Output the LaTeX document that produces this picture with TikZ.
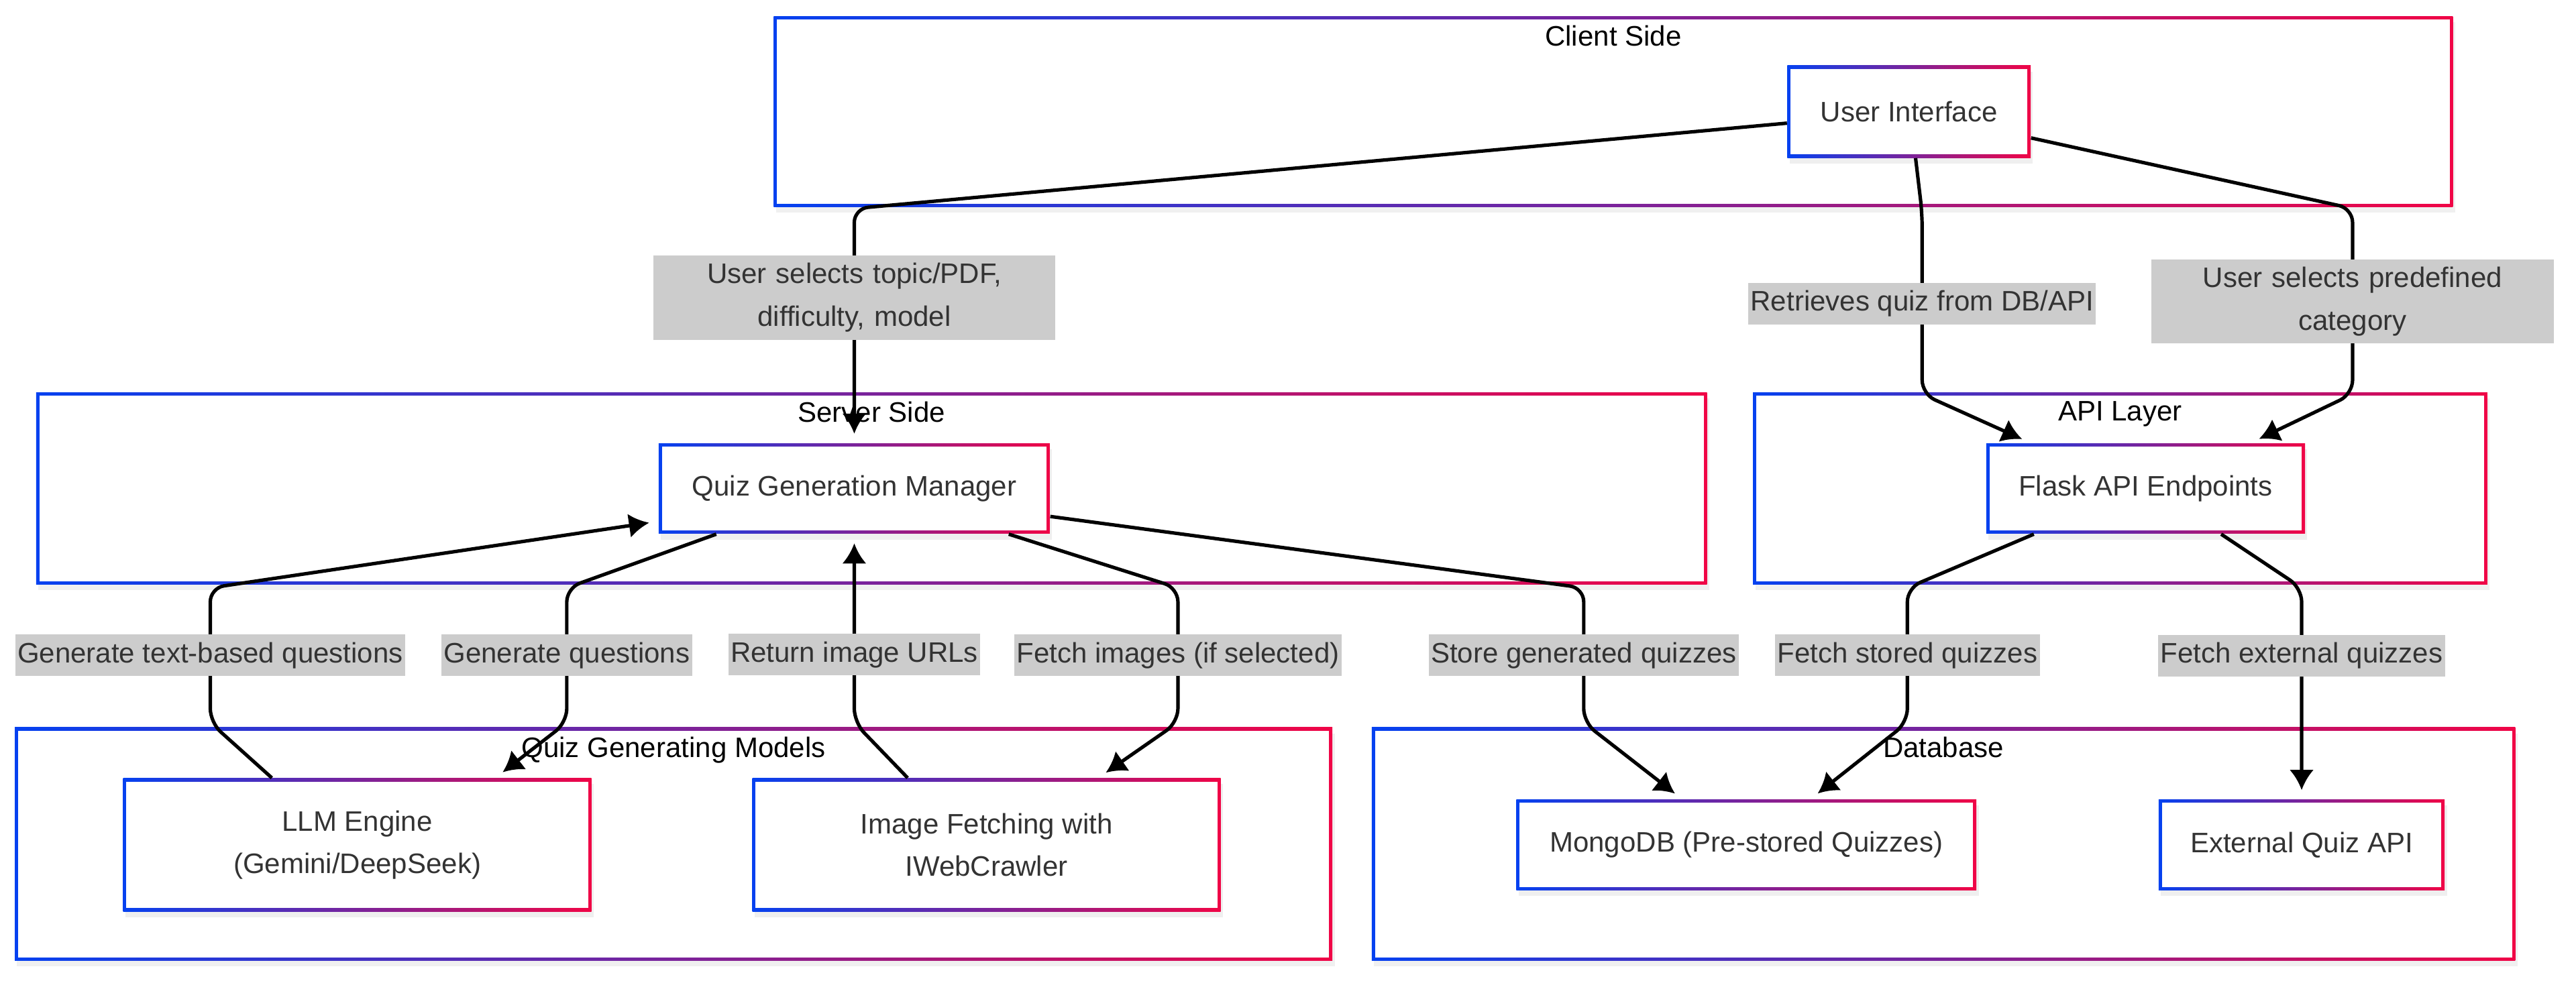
\documentclass[tikz,border=0pt]{standalone}
\usepackage{fontspec}
\setmainfont{Liberation Sans}
\usetikzlibrary{arrows,arrows.meta,fit,positioning,shadows}
\definecolor{gblue}{RGB}{5,65,240}
\definecolor{gred}{RGB}{240,5,70}
\definecolor{txt}{RGB}{51,51,51}
\definecolor{lblfill}{RGB}{204,204,204}
\tikzset{
	grad/.style={drop shadow={opacity=0.12,shadow xshift=1pt,shadow yshift=-2.5pt},path picture={
		\shade[left color=gblue,right color=gred] (path picture bounding box.south west) rectangle (path picture bounding box.north east);
		\fill[white] ([shift={(1.4pt,1.4pt)}]path picture bounding box.south west) rectangle ([shift={(-1.4pt,-1.4pt)}]path picture bounding box.north east);}},
	box/.style={grad,fill=white,inner sep=0,text=txt,align=center},
	cluster/.style={grad,inner sep=0},
	title/.style={inner sep=0,text=black},
	lbl/.style={sharp corners,fill=lblfill,text=txt,inner xsep=1pt,inner ysep=3.3pt,align=center},
	lbltwo/.style={lbl,text width=6.05cm},
	edge/.style={->,>={Latex[length=8.7pt,width=10.5pt]},line width=1.5pt,rounded corners=6pt,shorten >=4pt}
}
\begin{document}
\begin{tikzpicture}[x=0.025cm,y=-0.025cm,font=\fontsize{12.2}{18.5}\selectfont]
\useasboundingbox (0,0) rectangle (1568,597);
\node[cluster,fit={(471,10) (1493,126)}] (client) {};
\node[title,below=4pt of client.north] (clientT) {Client Side};
\node[cluster,fit={(22,239) (1039,356)}] (server) {};
\node[title,below=4pt of server.north] (serverT) {Server Side};
\node[cluster,fit={(1067,239) (1514,356)}] (apilayer) {};
\node[title,below=4pt of apilayer.north] (apilayerT) {API Layer};
\node[cluster,fit={(9,443) (811,585)}] (models) {};
\node[title,below=4pt of models.north] (modelsT) {Quiz Generating Models};
\node[cluster,fit={(835,443) (1531,585)}] (db) {};
\node[title,below=4pt of db.north] (dbT) {Database};

\node[box,minimum width=3.7cm,minimum height=1.4cm] (ui) at (1162,68) {User Interface};
\node[box,minimum width=5.95cm,minimum height=1.375cm] (qgm) at (520,297.5) {Quiz Generation Manager};
\node[box,minimum width=4.85cm,minimum height=1.375cm] (api) at (1306,297.5) {Flask API Endpoints};
\node[box,minimum width=7.125cm,minimum height=2.025cm] (llm) at (217.5,514.5) {LLM Engine\\(Gemini/DeepSeek)};
\node[box,minimum width=7.125cm,minimum height=2.025cm] (img) at (600.5,514.5) {Image Fetching with\\IWebCrawler};
\node[box,minimum width=7cm,minimum height=1.375cm] (mongo) at (1063,514.5) {MongoDB (Pre-stored Quizzes)};
\node[box,minimum width=4.35cm,minimum height=1.375cm] (ext) at (1401,514.5) {External Quiz API};

\draw[edge] ([yshift=-0.175cm]ui.west) -- (520,127) -- node[lbltwo,pos=0.38]{User selects topic/PDF,\\difficulty, model} (qgm.north);
\draw[edge] ([xshift=0.1cm]ui.south) -- (1170,130) -- node[lbl]{Retrieves quiz from DB/API} (1170,240) -- ([xshift=-1.75cm]api.north);
\draw[edge] ([yshift=-0.4cm]ui.east) -- (1432,127) -- node[lbltwo]{User selects predefined\\category} (1432,240) -- ([xshift=1.6cm]api.north);
\draw[edge] ([xshift=-1.3cm]llm.north) -- (128,440) -- node[lbl]{Generate text-based questions} (128,358) -- ([yshift=-0.5cm]qgm.west);
\draw[edge] ([xshift=-2.1cm]qgm.south) -- (345,358) -- node[lbl]{Generate questions} (345,440) -- ([xshift=2.1cm]llm.north);
\draw[edge] ([xshift=-1.2cm]img.north) -- (520,440) -- node[lbl,pos=0.36]{Return image URLs} (qgm.south);
\draw[edge] ([xshift=2.35cm]qgm.south) -- (717,358) -- node[lbl]{Fetch images (if selected)} (717,440) -- ([xshift=1.7cm]img.north);
\draw[edge] ([yshift=-0.425cm]qgm.east) -- (964,358) -- node[lbl]{Store generated quizzes} (964,440) -- ([xshift=-0.975cm]mongo.north);
\draw[edge] ([xshift=-1.7cm]api.south) -- (1161,358) -- node[lbl]{Fetch stored quizzes} (1161,440) -- ([xshift=0.975cm]mongo.north);
\draw[edge] ([xshift=1.15cm]api.south) -- (1401,358) -- node[lbl,pos=0.32]{Fetch external quizzes} (ext.north);
\end{tikzpicture}
\end{document}
